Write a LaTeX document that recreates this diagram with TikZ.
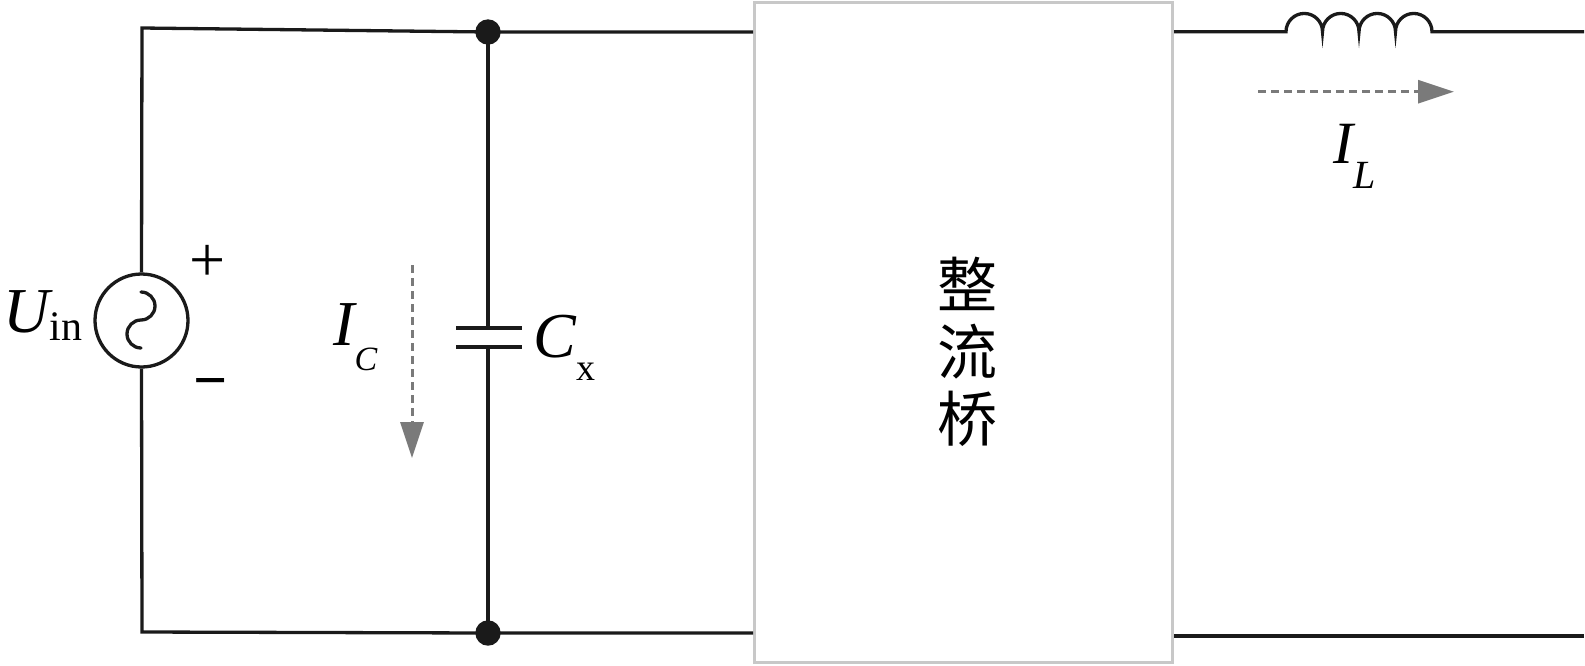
\documentclass[tikz,border=0pt]{standalone}
\usepackage{fontspec}
\setmainfont{Liberation Serif}
\newfontfamily\cjk{Noto Sans CJK SC}
\usetikzlibrary{arrows.meta}
\definecolor{boxgray}{HTML}{C8C8C8}
\definecolor{arrgray}{HTML}{7A7A7A}
\definecolor{wireblack}{HTML}{1A1A1A}
\begin{document}
\begin{tikzpicture}[x=0.5pt,y=-0.5pt,
  wire/.style={line width=1.65pt, wireblack, line join=miter},
  plate/.style={line width=2.3pt, wireblack},
  jdot/.style={circle, fill=wireblack, inner sep=0pt, minimum size=12.7pt},
  srcnode/.style={circle, draw=wireblack, line width=1.65pt, inner sep=0pt, minimum size=46.5pt},
  bridgebox/.style={rectangle, draw=boxgray, line width=1.5pt, inner sep=0pt, minimum width=208.9pt, minimum height=330pt},
  curarrow/.style={arrgray, line width=1.5pt, dash pattern=on 4pt off 2.5pt, -{Triangle[length=18pt,width=11.5pt]}},
  lbl/.style={anchor=base west, inner sep=0pt},
  bigf/.style={font=\fontsize{32}{38}\selectfont}
]
\useasboundingbox (0,0) rectangle (1585,665);

% nodes
\node[srcnode] (src) at (141.5,320.5) {};
\node[bridgebox] (bridge) at (963.6,332.25) {};
\node[align=center, inner sep=0pt, font=\cjk\fontsize{30}{33.5}\selectfont] (bridgetext) at (967,352) {整\\流\\桥};

% coordinates
\coordinate (tl) at (142,28);
\coordinate (bl) at (142,632);
\coordinate (jtc) at (488,32);
\coordinate (jbc) at (488,633);
\coordinate (capT) at (488,328);
\coordinate (capB) at (488,347);
\coordinate (plTl) at (456,328);
\coordinate (plTr) at (522,328);
\coordinate (plBl) at (456,347);
\coordinate (plBr) at (522,347);
\coordinate (indL) at (1286,31.7);
\coordinate (indR) at (1432,31.7);
\coordinate (outT) at (1584,31.7);
\coordinate (outB) at (1584,636);
\coordinate (brBR) at (bridge.east |- outB);
\coordinate (brTR) at (bridge.east |- indL);
\coordinate (brTL) at (bridge.west |- jtc);
\coordinate (brBL) at (bridge.west |- jbc);

% left loop
\draw[wire] (src.north) -- (tl) -- (jtc) -- (brTL);
\draw[wire] (src.south) -- (bl) -- (jbc) -- (brBL);

% capacitor
\draw[wire] (jtc) -- (capT);
\draw[wire] (capB) -- (jbc);
\draw[line width=2pt, wireblack] (488,297) -- (capT);
\draw[line width=2pt, wireblack] (capB) -- (488,387);
\draw[plate] (plTl) -- (plTr);
\draw[plate] (plBl) -- (plBr);

% sine in source
\draw[wire, line cap=round] (141,292) arc[start angle=-90, end angle=90, radius=14]
  arc[start angle=-90, end angle=-270, radius=14];

% right side with inductor
\draw[wire] (brTR) -- (indL)
  arc[start angle=180, end angle=360, radius=18.25]
  arc[start angle=180, end angle=360, radius=18.25]
  arc[start angle=180, end angle=360, radius=18.25]
  arc[start angle=180, end angle=360, radius=18.25]
  -- (outT);
\draw[wire] (brBR) -- (outB);

% junction dots
\node[jdot] (jt) at (jtc) {};
\node[jdot] (jb) at (jbc) {};

% current arrows
\coordinate (icS) at (412,265);
\coordinate (icE) at (412,458);
\coordinate (ilS) at (1258,91.7);
\coordinate (ilE) at (1454,91.7);
\draw[curarrow] (icS) -- (icE);
\draw[curarrow] (ilS) -- (ilE);

% labels
\node[lbl] (uin) at (3,332) {\fontsize{32}{38}\selectfont\itshape U\upshape\raisebox{-4pt}{\fontsize{21}{25}\selectfont in}};
\node[lbl] (ic) at (333,345) {\fontsize{32}{38}\selectfont\itshape I\raisebox{-12.5pt}{\fontsize{17}{20}\selectfont C}};
\node[lbl] (cx) at (533,357) {\fontsize{32}{38}\selectfont\itshape C\upshape\raisebox{-11.5pt}{\fontsize{19}{22}\selectfont x}};
\node[lbl] (il) at (1333,163) {\fontsize{30}{36}\selectfont\itshape I\raisebox{-12.5pt}{\fontsize{20}{24}\selectfont L}};
\node[inner sep=0pt, bigf] (plus) at (208,263) {+};
\node[inner sep=0pt, font=\fontsize{30}{36}\selectfont\bfseries] (minus) at (211,389) {−};
\end{tikzpicture}
\end{document}
